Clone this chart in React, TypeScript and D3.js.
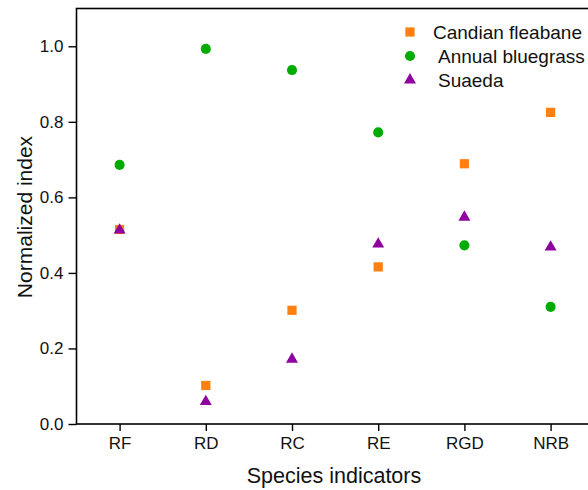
import React, { useRef, useEffect } from 'react';
import * as d3 from 'd3';

const categories = ['RF', 'RD', 'RC', 'RE', 'RGD', 'NRB'];
const fleabane = [0.515, 0.102, 0.301, 0.416, 0.689, 0.825];
const bluegrass = [0.686, 0.993, 0.937, 0.772, 0.473, 0.31];
const suaeda = [0.516, 0.062, 0.174, 0.479, 0.55, 0.471];
const yTicks = [0, 0.2, 0.4, 0.6, 0.8, 1.0];

const series = [
  { name: 'Candian fleabane', values: fleabane, color: '#ff8010', shape: 'square' },
  { name: 'Annual bluegrass', values: bluegrass, color: '#00ab00', shape: 'circle' },
  { name: 'Suaeda', values: suaeda, color: '#8f00a0', shape: 'triangle' },
];

const symbolFor = (shape: string) => {
  if (shape === 'square') return d3.symbol(d3.symbolSquare, 85);
  if (shape === 'circle') return d3.symbol(d3.symbolCircle, 80);
  return d3.symbol(d3.symbolTriangle, 62);
};

const App = () => {
  const svgRef = useRef<SVGSVGElement>(null);

  useEffect(() => {
    const width = 588;
    const height = 490;
    const left = 76.5;
    const top = 8.5;
    const bottom = 424;
    const step = 86.2;

    const x = d3.scaleLinear().domain([-0.5, 5.5]).range([left, left + step * 6]);
    const y = d3.scaleLinear().domain([0, 1.1]).range([bottom, top]);

    const svg = d3.select(svgRef.current)
      .attr('width', width)
      .attr('height', height)
      .style('display', 'block')
      .style('position', 'absolute')
      .style('left', '0px')
      .style('top', '0px')
      .style('font-family', 'Liberation Sans, Arial, sans-serif');
    svg.selectAll('*').remove();

    // frame (right side falls outside the picture)
    svg.append('rect')
      .attr('x', left)
      .attr('y', top)
      .attr('width', step * 6)
      .attr('height', bottom - top)
      .attr('fill', 'none')
      .attr('stroke', '#000')
      .attr('stroke-width', 1.6);

    const yAxis = svg.append('g')
      .attr('transform', `translate(${left},0)`)
      .call(d3.axisLeft(y).tickValues(yTicks).tickFormat(d3.format('.1f')).tickSize(8).tickPadding(5));
    yAxis.attr('font-size', null).attr('font-family', null);
    yAxis.select('.domain').remove();
    yAxis.selectAll('line').attr('stroke-width', 1.4);
    yAxis.selectAll('text').style('font-size', '17px').attr('fill', '#111');

    const xAxis = svg.append('g')
      .attr('transform', `translate(0,${bottom})`)
      .call(d3.axisBottom(x).tickValues(d3.range(categories.length)).tickFormat((d) => categories[d as number]).tickSize(7).tickPadding(6));
    xAxis.attr('font-size', null).attr('font-family', null);
    xAxis.select('.domain').remove();
    xAxis.selectAll('line').attr('stroke-width', 1.4);
    xAxis.selectAll('text').style('font-size', '17px').attr('fill', '#111');

    svg.append('text')
      .attr('x', 334)
      .attr('y', 483)
      .attr('text-anchor', 'middle')
      .style('font-size', '21.5px')
      .attr('fill', '#111')
      .text('Species indicators');

    svg.append('text')
      .attr('transform', 'translate(32,217) rotate(-90)')
      .attr('text-anchor', 'middle')
      .style('font-size', '21px')
      .attr('fill', '#111')
      .text('Normalized index');

    series.forEach((s) => {
      svg.append('g')
        .selectAll('path')
        .data(s.values)
        .join('path')
        .attr('d', symbolFor(s.shape))
        .attr('transform', (d, i) => `translate(${x(i)},${y(d) + (s.shape === 'triangle' ? 1 : 0)})`)
        .attr('fill', s.color);
    });

    const legend = svg.append('g');
    const legendY = [32, 56, 80];
    const legendTextX = [433, 438, 438];
    series.forEach((s, i) => {
      legend.append('path')
        .attr('d', symbolFor(s.shape))
        .attr('transform', `translate(410,${legendY[i]})`)
        .attr('fill', s.color);
      legend.append('text')
        .attr('x', legendTextX[i])
        .attr('y', legendY[i] + 7)
        .style('font-size', '19px')
        .attr('fill', '#111')
        .text(s.name);
    });
  }, []);

  return <svg ref={svgRef}></svg>;
};

export default App;
